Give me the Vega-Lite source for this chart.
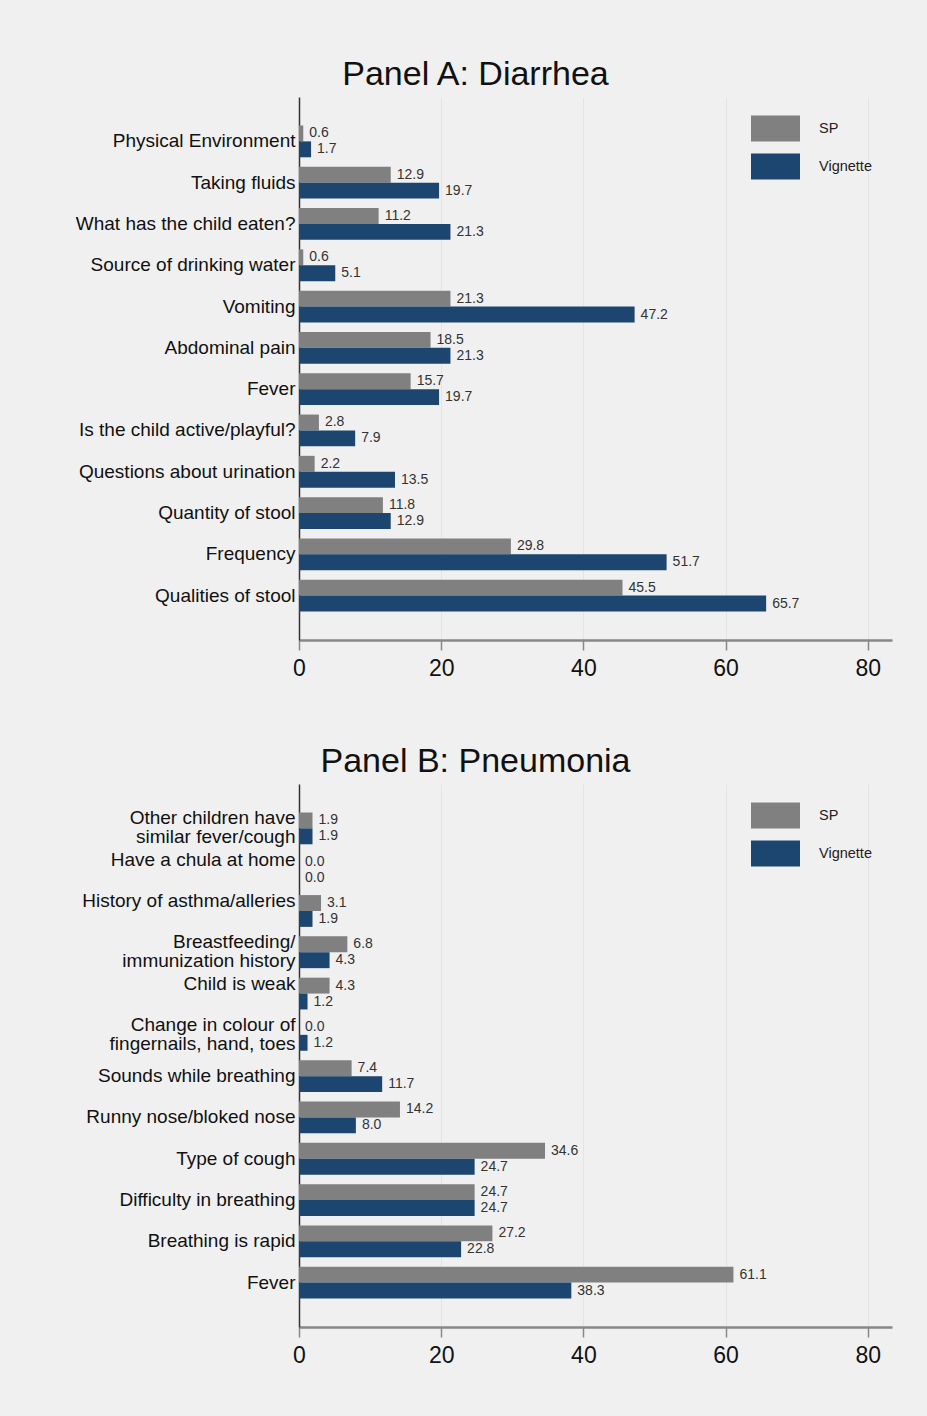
{
  "$schema": "https://vega.github.io/schema/vega-lite/v6.json",
  "background": "#f0f0f0",
  "padding": {"left": 59, "top": 58, "right": 35, "bottom": 50},
  "config": {
    "font": "Liberation Sans",
    "view": {"stroke": null},
    "title": {"fontSize": 34, "fontWeight": "normal", "color": "#111111", "anchor": "middle", "frame": "bounds", "offset": 5},
    "legend": {
      "orient": "none",
      "legendX": 452,
      "legendY": 7,
      "title": null,
      "symbolType": "M-1,-0.53H1V0.53H-1Z",
      "symbolSize": 2401,
      "symbolStrokeWidth": 0,
      "symbolOpacity": 1,
      "labelFontSize": 14.5,
      "labelColor": "#222222",
      "labelOffset": 19,
      "rowPadding": -8,
      "padding": 0
    }
  },
  "data": {
    "values": [
      {"panel": "A", "item": "Physical Environment", "group": "SP", "value": 0.6},
      {"panel": "A", "item": "Physical Environment", "group": "Vignette", "value": 1.7},
      {"panel": "A", "item": "Taking fluids", "group": "SP", "value": 12.9},
      {"panel": "A", "item": "Taking fluids", "group": "Vignette", "value": 19.7},
      {"panel": "A", "item": "What has the child eaten?", "group": "SP", "value": 11.2},
      {"panel": "A", "item": "What has the child eaten?", "group": "Vignette", "value": 21.3},
      {"panel": "A", "item": "Source of drinking water", "group": "SP", "value": 0.6},
      {"panel": "A", "item": "Source of drinking water", "group": "Vignette", "value": 5.1},
      {"panel": "A", "item": "Vomiting", "group": "SP", "value": 21.3},
      {"panel": "A", "item": "Vomiting", "group": "Vignette", "value": 47.2},
      {"panel": "A", "item": "Abdominal pain", "group": "SP", "value": 18.5},
      {"panel": "A", "item": "Abdominal pain", "group": "Vignette", "value": 21.3},
      {"panel": "A", "item": "Fever", "group": "SP", "value": 15.7},
      {"panel": "A", "item": "Fever", "group": "Vignette", "value": 19.7},
      {"panel": "A", "item": "Is the child active/playful?", "group": "SP", "value": 2.8},
      {"panel": "A", "item": "Is the child active/playful?", "group": "Vignette", "value": 7.9},
      {"panel": "A", "item": "Questions about urination", "group": "SP", "value": 2.2},
      {"panel": "A", "item": "Questions about urination", "group": "Vignette", "value": 13.5},
      {"panel": "A", "item": "Quantity of stool", "group": "SP", "value": 11.8},
      {"panel": "A", "item": "Quantity of stool", "group": "Vignette", "value": 12.9},
      {"panel": "A", "item": "Frequency", "group": "SP", "value": 29.8},
      {"panel": "A", "item": "Frequency", "group": "Vignette", "value": 51.7},
      {"panel": "A", "item": "Qualities of stool", "group": "SP", "value": 45.5},
      {"panel": "A", "item": "Qualities of stool", "group": "Vignette", "value": 65.7},
      {"panel": "B", "item": "Other children have\nsimilar fever/cough", "group": "SP", "value": 1.9},
      {"panel": "B", "item": "Other children have\nsimilar fever/cough", "group": "Vignette", "value": 1.9},
      {"panel": "B", "item": "Have a chula at home", "group": "SP", "value": 0.0},
      {"panel": "B", "item": "Have a chula at home", "group": "Vignette", "value": 0.0},
      {"panel": "B", "item": "History of asthma/alleries", "group": "SP", "value": 3.1},
      {"panel": "B", "item": "History of asthma/alleries", "group": "Vignette", "value": 1.9},
      {"panel": "B", "item": "Breastfeeding/\nimmunization history", "group": "SP", "value": 6.8},
      {"panel": "B", "item": "Breastfeeding/\nimmunization history", "group": "Vignette", "value": 4.3},
      {"panel": "B", "item": "Child is weak", "group": "SP", "value": 4.3},
      {"panel": "B", "item": "Child is weak", "group": "Vignette", "value": 1.2},
      {"panel": "B", "item": "Change in colour of\nfingernails, hand, toes", "group": "SP", "value": 0.0},
      {"panel": "B", "item": "Change in colour of\nfingernails, hand, toes", "group": "Vignette", "value": 1.2},
      {"panel": "B", "item": "Sounds while breathing", "group": "SP", "value": 7.4},
      {"panel": "B", "item": "Sounds while breathing", "group": "Vignette", "value": 11.7},
      {"panel": "B", "item": "Runny nose/bloked nose", "group": "SP", "value": 14.2},
      {"panel": "B", "item": "Runny nose/bloked nose", "group": "Vignette", "value": 8.0},
      {"panel": "B", "item": "Type of cough", "group": "SP", "value": 34.6},
      {"panel": "B", "item": "Type of cough", "group": "Vignette", "value": 24.7},
      {"panel": "B", "item": "Difficulty in breathing", "group": "SP", "value": 24.7},
      {"panel": "B", "item": "Difficulty in breathing", "group": "Vignette", "value": 24.7},
      {"panel": "B", "item": "Breathing is rapid", "group": "SP", "value": 27.2},
      {"panel": "B", "item": "Breathing is rapid", "group": "Vignette", "value": 22.8},
      {"panel": "B", "item": "Fever", "group": "SP", "value": 61.1},
      {"panel": "B", "item": "Fever", "group": "Vignette", "value": 38.3}
    ]
  },
  "spacing": 65,
  "resolve": {"legend": {"color": "independent"}},
  "vconcat": [
    {
      "title": "Panel A: Diarrhea",
      "width": 593,
      "height": 543,
      "transform": [{"filter": "datum.panel === 'A'"}],
      "encoding": {
        "y": {
          "field": "item", "type": "nominal", "sort": null,
          "scale": {"paddingInner": 0.23, "paddingOuter": 0.69},
          "axis": {"title": null, "ticks": false, "domainColor": "#333333", "domainWidth": 1.5, "labelFontSize": 19, "labelColor": "#111111", "labelPadding": 4, "labelLimit": 400, "labelLineHeight": 19, "minExtent": 240, "maxExtent": 240, "grid": false,
            "labelExpr": "split(datum.label, '\\n')"}
        },
        "x": {
          "field": "value", "type": "quantitative",
          "scale": {"domain": [0, 83.4], "nice": false},
          "axis": {"title": null, "values": [0, 20, 40, 60, 80], "labelFlush": false, "domainColor": "#888888", "domainWidth": 2.5, "tickColor": "#888888", "tickWidth": 1.5, "tickSize": 10, "labelFontSize": 23, "labelColor": "#111111", "labelPadding": 7, "grid": true, "gridColor": "#e4e4e4", "gridWidth": 1}
        },
        "yOffset": {"field": "group", "type": "nominal", "sort": ["SP", "Vignette"]}
      },
      "layer": [
        {
          "mark": {"type": "bar"},
          "encoding": {
            "color": {"field": "group", "type": "nominal", "scale": {"domain": ["SP", "Vignette"], "range": ["#808080", "#1c4670"]}}
          }
        },
        {
          "mark": {"type": "text", "align": "left", "baseline": "middle", "dx": 6, "fontSize": 14, "color": "#333333"},
          "encoding": {"text": {"field": "value", "type": "quantitative", "format": ".1f"}}
        }
      ]
    },
    {
      "title": "Panel B: Pneumonia",
      "width": 593,
      "height": 543,
      "transform": [{"filter": "datum.panel === 'B'"}],
      "encoding": {
        "y": {
          "field": "item", "type": "nominal", "sort": null,
          "scale": {"paddingInner": 0.23, "paddingOuter": 0.69},
          "axis": {"title": null, "ticks": false, "domainColor": "#333333", "domainWidth": 1.5, "labelFontSize": 19, "labelColor": "#111111", "labelPadding": 4, "labelLimit": 400, "labelLineHeight": 19, "minExtent": 240, "maxExtent": 240, "grid": false,
            "labelExpr": "split(datum.label, '\\n')",
            "labelOffset": {"condition": {"test": "indexof(datum.label, '\\n') >= 0 || indexof(['Have a chula at home','History of asthma/alleries','Child is weak'], datum.label) >= 0", "value": -10}, "value": 0}}
        },
        "x": {
          "field": "value", "type": "quantitative",
          "scale": {"domain": [0, 83.4], "nice": false},
          "axis": {"title": null, "values": [0, 20, 40, 60, 80], "labelFlush": false, "domainColor": "#888888", "domainWidth": 2.5, "tickColor": "#888888", "tickWidth": 1.5, "tickSize": 10, "labelFontSize": 23, "labelColor": "#111111", "labelPadding": 7, "grid": true, "gridColor": "#e4e4e4", "gridWidth": 1}
        },
        "yOffset": {"field": "group", "type": "nominal", "sort": ["SP", "Vignette"]}
      },
      "layer": [
        {
          "mark": {"type": "bar"},
          "encoding": {
            "color": {"field": "group", "type": "nominal", "scale": {"domain": ["SP", "Vignette"], "range": ["#808080", "#1c4670"]}}
          }
        },
        {
          "mark": {"type": "text", "align": "left", "baseline": "middle", "dx": 6, "fontSize": 14, "color": "#333333"},
          "encoding": {"text": {"field": "value", "type": "quantitative", "format": ".1f"}}
        }
      ]
    }
  ]
}
